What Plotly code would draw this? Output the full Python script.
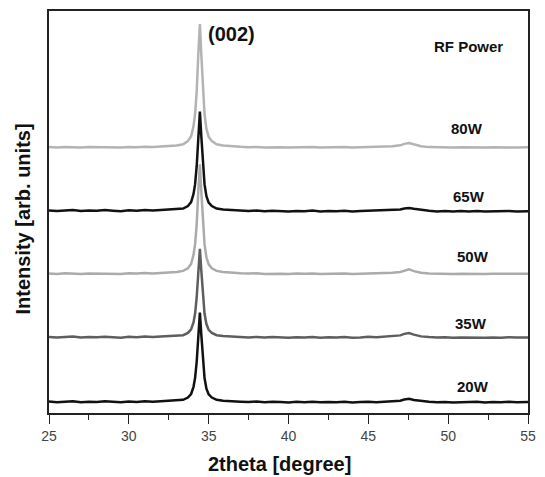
import plotly.graph_objects as go

two_theta = [25.0, 25.5, 26.0, 26.5, 27.0, 27.5, 28.0, 28.5, 29.0, 29.5, 30.0, 30.5, 31.0, 31.5, 32.0, 32.5,
             33.0, 33.4, 33.7, 33.9, 34.05, 34.15, 34.25, 34.35, 34.45, 34.54, 34.64, 34.74, 34.86, 35.0, 35.2, 35.5, 35.9, 36.4, 37.0,
             37.5, 38.0, 38.5, 39.0, 39.5, 40.0, 40.5, 41.0, 41.5, 42.0, 42.5, 43.0, 43.5, 44.0, 44.5, 45.0, 45.5, 46.0, 46.5,
             47.0, 47.25, 47.55, 47.85, 48.3,
             48.8, 49.3, 49.8, 50.3, 50.8, 51.3, 51.8, 52.3, 52.8, 53.3, 53.8, 54.3, 55.0]

i_20w = [11.5, 10.8, 11.3, 11.9, 10.9, 11.4, 11.0, 11.7, 11.2, 10.7, 11.6, 11.1, 11.8, 11.3, 11.9, 12.2,
         12.4, 13.3, 15.5, 19.1, 26.3, 35.3, 51.5, 78.5, 101, 78.5, 51.5, 35.3, 24.5, 18.7, 15.5, 13.3, 12.4, 11.7, 11.4,
         11.0, 11.5, 10.8, 11.3, 11.0, 10.6, 11.2, 10.9, 11.4, 10.7, 11.1, 10.8, 11.3, 10.6, 11.0, 11.4, 10.9, 11.2, 11.6,
         12.3, 13.5, 14.2, 13.0, 11.8,
         11.2, 10.7, 11.1, 10.6, 11.0, 10.8, 11.3, 10.5, 11.0, 10.7, 11.2, 10.8, 11.0]

i_35w = [76.4, 75.8, 76.3, 76.8, 75.9, 76.5, 76.1, 76.7, 76.2, 75.7, 76.6, 76.1, 76.8, 76.3, 76.9, 77.1,
         77.3, 78.2, 80.5, 84.0, 91.1, 100.0, 116.1, 142.8, 165, 142.8, 116.1, 100.0, 89.4, 83.6, 80.5, 78.2, 77.3, 76.7, 76.4,
         76.0, 76.5, 75.8, 76.3, 76.0, 75.6, 76.2, 75.9, 76.4, 75.7, 76.1, 75.8, 76.3, 75.6, 76.0, 76.6, 76.2, 76.8, 77.2,
         78.0, 79.5, 80.3, 78.8, 77.0,
         76.3, 75.8, 76.1, 75.6, 76.0, 75.8, 76.3, 75.5, 76.0, 75.7, 76.2, 75.8, 76.0]

i_50w = [140.3, 139.8, 140.4, 140.0, 139.7, 140.3, 140.1, 140.6, 140.2, 139.8, 140.5, 140.1, 140.6, 140.3, 140.8, 141.2,
         141.7, 142.8, 145.5, 149.9, 158.7, 169.7, 189.5, 222.5, 250, 222.5, 189.5, 169.7, 156.5, 149.4, 145.5, 142.8, 141.7, 140.9, 140.4,
         140.1, 140.4, 139.8, 140.2, 140.0, 139.7, 140.2, 139.9, 140.3, 139.8, 140.1, 139.8, 140.2, 139.7, 140.0, 140.3, 140.1, 140.5, 141.0,
         141.8, 143.2, 144.3, 142.6, 141.0,
         140.3, 139.9, 140.1, 139.8, 140.0, 139.8, 140.2, 139.7, 140.0, 139.8, 140.1, 139.9, 140.0]

i_65w = [203.6, 203.0, 203.5, 204.0, 203.1, 203.6, 203.2, 203.9, 203.3, 202.8, 203.7, 203.2, 203.9, 203.4, 204.0, 204.3,
         204.5, 205.5, 208, 212, 220, 230, 248, 278, 303, 278, 248, 230, 218, 211.5, 208, 205.5, 204.5, 203.8, 203.4,
         203.0, 203.5, 202.7, 203.3, 202.9, 202.5, 203.1, 202.8, 203.4, 202.6, 203.0, 202.7, 203.2, 202.5, 202.9, 203.3, 203.0, 203.5, 204.0,
         204.6, 205.6, 206.0, 205.2, 204.0,
         203.2, 202.6, 203.0, 202.4, 202.9, 202.6, 203.1, 202.4, 202.8, 202.5, 203.0, 202.6, 202.8]

i_80w = [267.3, 266.9, 267.4, 267.0, 266.8, 267.3, 267.1, 267.5, 267.2, 266.9, 267.4, 267.1, 267.6, 267.3, 267.8, 268.2,
         268.9, 270.1, 273.2, 278.2, 288.1, 300.5, 322.8, 360, 391, 360, 322.8, 300.5, 285.6, 277.5, 273.2, 270.1, 268.9, 268, 267.5,
         267.1, 267.4, 266.9, 267.2, 267.0, 266.8, 267.2, 266.9, 267.3, 266.8, 267.1, 266.9, 267.2, 266.8, 267.0, 267.3, 267.1, 267.6, 268.2,
         269.0, 270.5, 271.3, 269.8, 268.0,
         267.2, 266.9, 267.1, 266.8, 267.0, 266.8, 267.2, 266.7, 267.0, 266.8, 267.1, 266.9, 267.0]

series_names = ["80W", "50W", "65W", "35W", "20W"]
series_values = [i_80w, i_50w, i_65w, i_35w, i_20w]
series_colors = ["#b3b3b3", "#ababab", "#111111", "#5e5e5e", "#111111"]
label_pos = {"80W": (51.16, 286), "65W": (51.32, 218), "50W": (51.53, 157), "35W": (51.44, 90), "20W": (51.57, 27)}

x_ticks = [25, 30, 35, 40, 45, 50, 55]

fig = go.Figure()
for name, vals, col in zip(series_names, series_values, series_colors):
    fig.add_trace(go.Scatter(x=two_theta, y=vals, mode="lines", name=name,
                             line=dict(color=col, width=2.5), showlegend=False))

FAM = "Liberation Sans, Arial"
lab_font = dict(family=FAM, size=15, color="#111111")
for name in ["80W", "65W", "50W", "35W", "20W"]:
    lx, ly = label_pos[name]
    fig.add_annotation(x=lx, y=ly, text="<b>%s</b>" % name, showarrow=False, font=lab_font)
fig.add_annotation(x=51.28, y=368, text="<b>RF Power</b>", showarrow=False, font=dict(family=FAM, size=15, color="#111111"))
fig.add_annotation(x=36.45, y=381, text="<b>(002)</b>", showarrow=False, font=dict(family=FAM, size=20, color="#111111"))

# axis titles
fig.add_annotation(xref="paper", yref="paper", x=(282 - 49.3) / 483.3, y=-(464 - 412.7) / 403.7,
                   xanchor="center", yanchor="middle",
                   text="<b>2theta [degree]</b>", showarrow=False, font=dict(family=FAM, size=20, color="#111111"))
fig.add_annotation(xref="paper", yref="paper", x=-(49.3 - 23.5) / 483.3, y=(412.7 - 218) / 403.7, textangle=-90,
                   xanchor="center", yanchor="middle",
                   text="<b>Intensity [arb. units]</b>", showarrow=False, font=dict(family=FAM, size=20, color="#111111"))

fig.update_layout(
    width=545, height=477,
    margin=dict(l=49, r=12, t=9, b=64),
    paper_bgcolor="white", plot_bgcolor="white",
    font=dict(family=FAM, color="#333333"),
)
fig.update_xaxes(
    range=[25, 55], tickvals=x_ticks, ticks="outside", ticklen=9, tickwidth=1.2, tickcolor="#222",
    minor=dict(dtick=2.5, tick0=25, ticks="outside", ticklen=5, tickwidth=1.2, tickcolor="#222"),
    showgrid=False, zeroline=False, showline=True, linecolor="#222", linewidth=1.5, mirror=True,
    tickfont=dict(size=14, color="#444444"),
)
fig.update_yaxes(
    range=[0, 404], showticklabels=False, ticks="", showgrid=False, zeroline=False,
    showline=True, linecolor="#222", linewidth=1.5, mirror=True,
)

fig.write_html("out.html")
